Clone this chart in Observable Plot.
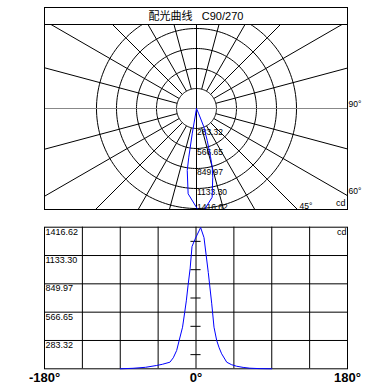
<!DOCTYPE html>
<html><head><meta charset="utf-8">
<script src="https://cdn.jsdelivr.net/npm/d3@7"></script>
<script src="https://cdn.jsdelivr.net/npm/@observablehq/plot@0.6"></script>
<style>
body{margin:0;background:#fff;}
#wrap{position:relative;width:376px;height:392px;overflow:hidden;}
#top{position:absolute;left:0;top:0;}
#bot{position:absolute;left:0;top:213px;}
#title{position:absolute;left:44px;top:7px;width:304px;height:18px;box-sizing:border-box;border:1px solid #000;border-bottom:none;
 font:11px "Liberation Sans","Noto Sans CJK SC",sans-serif;text-align:center;line-height:17px;white-space:pre;color:#000;}
</style></head><body>
<div id="wrap"><div id="top"></div><div id="title"></div><div id="bot"></div></div>
<script>
// ---- data ----
const titleText = "配光曲线   C90/270";
const ringValues = [283.32, 566.65, 849.97, 1133.30, 1416.62];
const ringLabels = ["283.32", "566.65", "849.97", "1133.30", "1416.62"];
const angleLabels = [{angle: 90, text: "90°"}, {angle: 60, text: "60°"}, {angle: 45, text: "45°"}];
const unitLabel = "cd";
// polar curve: gamma (deg from nadir, + = right), intensity cd
const polarGamma = [-10, -9.6, -9.0, -8.5, -5.6, 2.5, 10.0, 13.3, 15.0, 16.2, 18.5, 21.8, 23, 25];
const polarCd    = [0, 364, 698, 888, 1214, 1510, 1276, 1000, 861, 712, 478, 279, 82, 0];
// linear curve
const lineAngles = [-90, -75, -60, -47, -40, -31, -27, -23, -20, -16, -13.5, -11.5, -9.5, -7, -4.75, -1.2, 5.5, 9.5, 14.6, 18.7, 21.4, 24.6, 27.5, 30.5, 36.5, 42, 48, 56, 64, 75, 90];
const lineCd     = [0, 5, 15, 33, 45, 66, 110, 183, 283, 416, 560, 680, 830, 1000, 1223, 1296, 1413, 1313, 963, 650, 416, 283, 210, 150, 66, 42, 26, 14, 6, 2, 0];
const xTicks = [-180, 0, 180];
const xTickLabels = ["-180°", "0°", "180°"];
const xGrid = [-135, -90, -45, 0, 45, 90, 135];

document.getElementById("title").textContent = titleText;
const rad = Math.PI / 180;
const font = "Liberation Sans, Arial, sans-serif";

// ---- polar chart ----
const k = ringValues[ringValues.length - 1] / 100; // cd per px
const xMin = -152 * k, xMax = 151 * k, yTop = -84 * k, yBot = 101 * k;
const ringPts = ringValues.flatMap(R => d3.range(0, 361, 2).map(t => ({R, u: R * Math.sin(t * rad), v: R * Math.cos(t * rad)})));
const spokes = d3.range(-165, 166, 15).filter(a => a % 90 !== 0);
const R0 = ringValues[0], R1 = 5000;
const polar = polarGamma.map((g, i) => ({u: polarCd[i] * Math.sin(g * rad), v: polarCd[i] * Math.cos(g * rad)}));
const edgePos = a => {
  const s = Math.sin(a * rad), c = Math.cos(a * rad);
  const tR = xMax / s, tB = yBot / c;
  return tR < tB ? {u: xMax, v: tR * c, side: "right"} : {u: tB * s, v: yBot, side: "bottom"};
};
const angPos = angleLabels.map(d => ({...d, ...edgePos(d.angle)}));
const ringLab = ringValues.map((r, i) => ({r, text: ringLabels[i], fits: r + 9.5 * k < yBot}));

const polarChart = Plot.plot({
  width: 376, height: 213,
  marginLeft: 44, marginRight: 29, marginTop: 24, marginBottom: 4,
  style: {fontFamily: font, fontSize: "9px", background: "transparent", color: "#000"},
  x: {domain: [xMin, xMax], axis: null},
  y: {domain: [yBot, yTop], axis: null},
  marks: [
    Plot.line(ringPts, {x: "u", y: "v", z: "R", stroke: "#000", strokeWidth: 1, clip: true}),
    Plot.link(spokes, {x1: a => R0 * Math.sin(a * rad), y1: a => R0 * Math.cos(a * rad),
                       x2: a => R1 * Math.sin(a * rad), y2: a => R1 * Math.cos(a * rad),
                       stroke: "#000", strokeWidth: 1, clip: true}),
    Plot.ruleY([0], {stroke: "#888", strokeWidth: 1}),
    Plot.ruleX([0], {stroke: "#000", strokeWidth: 1}),
    Plot.text(ringLab.filter(d => d.fits), {x: 0, y: "r", text: "text", textAnchor: "start", lineAnchor: "top",
                           dx: 0.5, dy: 0, fontSize: 8.5, fill: "#000"}),
    Plot.text(ringLab.filter(d => !d.fits), {x: 0, y: yBot, text: "text", textAnchor: "start", lineAnchor: "bottom",
                           dx: 0.5, dy: 0, fontSize: 8.5, fill: "#000"}),
    Plot.line(polar, {x: "u", y: "v", stroke: "#0000ff", strokeWidth: 1, clip: true}),
    Plot.text(angPos.filter(d => d.side === "right"), {x: "u", y: "v", text: "text", textAnchor: "start", dx: 1, dy: -4, fontSize: 8.5}),
    Plot.text(angPos.filter(d => d.side === "bottom"), {x: "u", y: "v", text: "text", textAnchor: "start", dx: 2, dy: -3.5, fontSize: 8.5}),
    Plot.text([unitLabel], {frameAnchor: "bottom-right", text: d => d, dx: -2, dy: -3.5, fontSize: 9}),
    Plot.frame({stroke: "#000", strokeWidth: 1})
  ]
});
document.getElementById("top").appendChild(polarChart);

// ---- linear chart ----
const curve = lineAngles.map((a, i) => ({a, cd: lineCd[i]}));
const mids = ringValues.map((r, i) => r - ringValues[0] / 2);
const linearChart = Plot.plot({
  width: 376, height: 179,
  marginLeft: 44, marginRight: 29, marginTop: 13.7, marginBottom: 23.7,
  style: {fontFamily: font, fontSize: "9px", background: "transparent", color: "#000"},
  x: {domain: [-180, 180], axis: null},
  y: {domain: [0, ringValues[ringValues.length - 1]], axis: null},
  marks: [
    Plot.ruleX(xGrid, {stroke: "#000", strokeWidth: 1}),
    Plot.ruleY(ringValues.slice(0, -1), {stroke: "#000", strokeWidth: 1}),
    Plot.ruleY(mids, {x1: -6, x2: 6, stroke: "#000", strokeWidth: 1}),
    Plot.frame({stroke: "#000", strokeWidth: 1}),
    Plot.line(curve, {x: "a", y: "cd", stroke: "#0000ff", strokeWidth: 1}),
    Plot.text(ringValues, {x: -180, y: d => d, text: (d, i) => ringLabels[i], textAnchor: "start", lineAnchor: "top", dx: 1, dy: 1, fontSize: 9}),
    Plot.text([unitLabel], {frameAnchor: "top-right", text: d => d, dx: -1, dy: 1, lineAnchor: "top", fontSize: 9}),
    Plot.text(xTicks, {x: d => d, frameAnchor: "bottom", text: (d, i) => xTickLabels[i], lineAnchor: "top", dy: 4, fontSize: 13, fontWeight: "bold"})
  ]
});
document.getElementById("bot").appendChild(linearChart);
</script>
</body></html>
